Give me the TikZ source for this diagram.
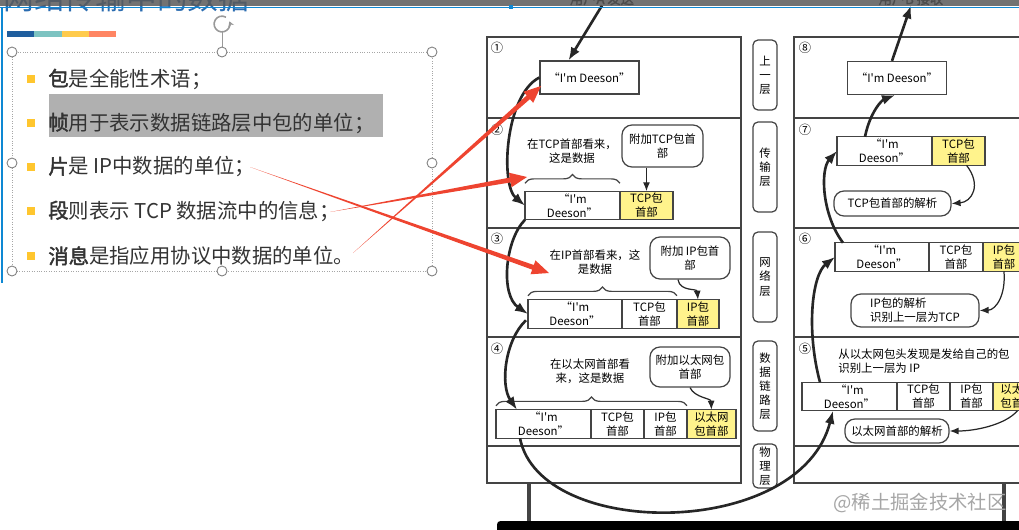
\documentclass[tikz,border=0pt]{standalone}
\usepackage{fontspec}
\newfontfamily\cjk{Noto Sans CJK SC}
\newfontfamily\cjkbold{Noto Sans CJK SC}[FakeBold=2]
\usetikzlibrary{positioning,calc,arrows.meta,decorations.pathreplacing}
\definecolor{frameline}{HTML}{444444}
\definecolor{hdryellow}{HTML}{FFF38C}
\definecolor{annotred}{RGB}{238,68,48}
\definecolor{bulletyellow}{HTML}{FFC62E}
\definecolor{titleblue}{HTML}{2B6CB0}
\definecolor{barblue}{HTML}{1F5E9E}
\definecolor{barteal}{HTML}{7DC3C1}
\definecolor{baryellow}{HTML}{FFCB4C}
\definecolor{barsalmon}{HTML}{FF8563}
\newcommand\diagfont{\cjk\fontsize{6.5}{8}\selectfont}
\newcommand\slidefont{\cjk\fontsize{11.6}{13}\selectfont}
\tikzset{
  cell/.style={draw=frameline, fill=white, line width=0.7pt, minimum height=0.57cm,
    inner sep=0pt, outer sep=0pt, align=center, font=\diagfont},
  hdr/.style={cell, fill=hdryellow},
  msgbox/.style={draw=frameline, fill=white, line width=0.7pt, minimum width=1.98cm,
    minimum height=0.66cm, inner sep=0pt, font=\diagfont},
  bubble/.style={draw=frameline, fill=white, line width=0.7pt, rounded corners=0.2cm,
    inner sep=0pt, align=center, font=\diagfont},
  layer/.style={draw=frameline, line width=0.7pt, rounded corners=0.1cm, minimum width=0.48cm,
    inner sep=0pt, align=center, font=\diagfont},
  stepnum/.style={inner sep=0pt, font=\cjk\fontsize{7}{8}\selectfont},
  notetext/.style={inner sep=0pt, align=center, font=\diagfont},
  curly/.style={draw=frameline, line width=0.7pt, decorate, decoration={brace, amplitude=5pt}},
  flow/.style={draw=black!85, line width=1.5pt, -{Latex[length=2.6mm,width=2mm]}},
  pointer/.style={draw=black!85, line width=0.7pt, -{Latex[length=1.8mm,width=1.4mm]}},
  annot/.style={fill=annotred},
  bulletsq/.style={fill=bulletyellow, minimum size=0.16cm, inner sep=0pt},
  bullettext/.style={anchor=west, inner sep=0pt, text=black!80, font=\slidefont},
  handle/.style={circle, draw=gray, fill=white, minimum size=0.2cm, inner sep=0pt, line width=0.5pt}
}
\begin{document}
\begin{tikzpicture}[x=0.02cm, y=-0.02cm]
  \useasboundingbox (0,0) rectangle (1019,529);
  \clip (0,0) rectangle (1019,529);

  % Slide text
  \node[anchor=west, inner sep=0pt, text=titleblue, font=\cjk\fontsize{17.5}{20}\selectfont] (title) at (3,-2) {网络传输中的数据};
  \fill[barblue] (7,31) rectangle (34,37);
  \fill[barteal] (34,31) rectangle (62,37);
  \fill[baryellow] (62,31) rectangle (89,37);
  \fill[barsalmon] (89,31) rectangle (116,37);

  \draw[gray!70, densely dotted, line width=0.4pt] (12,52) rectangle (432,271);
  \coordinate (rot) at (222,24);
  \draw[gray!80, line width=0.5pt] (222,52) -- (222,31);
  \draw[gray!80, line width=0.9pt, -{Stealth[length=1mm,width=1.2mm]}] ($(rot)+(60:4.5pt)$) arc[start angle=60, end angle=380, radius=4.5pt];
  \foreach \hx/\hy [count=\i] in {12/52, 222/52, 432/52, 12/163, 432/163, 12/271, 222/271, 432/271}
    \node[handle] (h\i) at (\hx,\hy) {};

  \fill[black!31] (49,94) rectangle (383,137);
  \foreach \by [count=\i] in {79,123,167,211,256}
    \node[bulletsq] (sq\i) at (31,\by) {};
  \node[bullettext] (bt1) at (48,79) {{\cjkbold 包}是全能性术语；};
  \node[bullettext] (bt2) at (48,123) {{\cjkbold 帧}用于表示数据链路层中包的单位；};
  \node[bullettext] (bt3) at (48,167) {{\cjkbold 片}是 IP中数据的单位；};
  \node[bullettext] (bt4) at (48,211) {{\cjkbold 段}则表示 TCP 数据流中的信息；};
  \node[bullettext] (bt5) at (48,256) {{\cjkbold 消息}是指应用协议中数据的单位。};

  % Frames
  \draw[frameline, line width=0.8pt] (487,37) rectangle (741,483);
  \draw[frameline, line width=0.8pt] (794,37) rectangle (1045,483);
  \foreach \yy in {118,228,337,446} {
    \draw[frameline, line width=0.8pt] (487,\yy) -- (741,\yy);
    \draw[frameline, line width=0.8pt] (794,\yy) -- (1045,\yy);
  }
  \draw[frameline, line width=2.4pt] (529,483) -- (529,522);
  \draw[frameline, line width=2.4pt] (1004,483) -- (1004,522);
  \fill[black, rounded corners=2pt] (497,521) rectangle (1030,535);

  % Layers
  \node[layer, minimum height=1.4cm] (l1) at (765,75) {上\\一\\层};
  \node[layer, minimum height=1.8cm] (l2) at (765,167) {传\\输\\层};
  \node[layer, minimum height=1.8cm] (l3) at (765,277) {网\\络\\层};
  \node[layer, minimum height=1.8cm] (l4) at (765,386) {数\\据\\链\\路\\层};
  \node[layer, minimum height=0.88cm] (l5) at (765,466) {物\\理\\层};

  % Sender side
  \node[font=\cjkbold\fontsize{7.5}{9}\selectfont, inner sep=0pt] (userA) at (602,-1) {用户A 发送};
  \node[stepnum] (n1) at (497,48) {①};
  \node[msgbox] (m1) at (589.5,77.5) {“I'm Deeson”};

  \node[stepnum] (n2) at (497,130) {②};
  \node[notetext] (s2) at (572,151) {在TCP首部看来，\\这是数据};
  \node[bubble, minimum width=1.62cm, minimum height=0.84cm] (b2) at (662.5,146) {附加TCP包首\\部};
  \node[cell, minimum width=1.9cm, anchor=west] (d2) at (525,205.5) {“I'm\\Deeson”};
  \node[hdr, minimum width=1.06cm, right=0pt of d2] (t2) {TCP包\\首部};

  \node[stepnum] (n3) at (497,239) {③};
  \node[notetext] (s3) at (595,262) {在IP首部看来，这\\是数据};
  \node[bubble, minimum width=1.6cm, minimum height=0.84cm] (b3) at (690,258) {附加 IP包首\\部};
  \node[cell, minimum width=1.88cm, anchor=west] (d3) at (528,314) {“I'm\\Deeson”};
  \node[cell, minimum width=1.1cm, right=0pt of d3] (t3) {TCP包\\首部};
  \node[hdr, minimum width=0.84cm, right=0pt of t3] (i3) {IP包\\首部};

  \node[stepnum] (n4) at (497,349) {④};
  \node[notetext] (s4) at (590,371) {在以太网首部看\\来，这是数据};
  \node[bubble, minimum width=1.6cm, minimum height=0.8cm] (b4) at (690,367) {附加以太网包\\首部};
  \node[cell, minimum width=1.9cm, anchor=west] (d4) at (496,424) {“I'm\\Deeson”};
  \node[cell, minimum width=1.06cm, right=0pt of d4] (t4) {TCP包\\首部};
  \node[cell, minimum width=0.86cm, right=0pt of t4] (i4) {IP包\\首部};
  \node[hdr, minimum width=0.98cm, right=0pt of i4] (e4) {以太网\\包首部};

  \draw[curly] ($(d2.north west)+(0,-8)$) -- ($(d2.north east)+(0,-8)$);
  \draw[curly] ($(d3.north west)+(0,-4)$) -- ($(t3.north east)+(0,-4)$);
  \draw[curly] ($(d4.north west)+(0,-4)$) -- ($(i4.north east)+(0,-4)$);

  % Receiver side
  \node[font=\cjkbold\fontsize{7.5}{9}\selectfont, inner sep=0pt] (userB) at (911,-1) {用户B 接收};
  \node[stepnum] (n8) at (805,48) {⑧};
  \node[msgbox] (m8) at (897,78) {“I'm Deeson”};

  \node[stepnum] (n7) at (805,130) {⑦};
  \node[cell, minimum width=1.9cm, anchor=west] (g7) at (837,151) {“I'm\\Deeson”};
  \node[hdr, minimum width=1.06cm, right=0pt of g7] (g7t) {TCP包\\首部};
  \node[bubble, minimum width=2.34cm, minimum height=0.5cm] (p7) at (892.5,203.5) {TCP包首部的解析};

  \node[stepnum] (n6) at (805,239) {⑥};
  \node[cell, minimum width=1.88cm, anchor=west] (f6) at (835,257) {“I'm\\Deeson”};
  \node[cell, minimum width=1.08cm, right=0pt of f6] (f6t) {TCP包\\首部};
  \node[hdr, minimum width=0.84cm, right=0pt of f6t] (f6i) {IP包\\首部};
  \node[bubble, minimum width=2.56cm, minimum height=0.66cm, align=left] (p6) at (915,310.5) {IP包的解析\\识别上一层为TCP};

  \node[stepnum] (n5) at (805,349) {⑤};
  \node[notetext, anchor=west, align=left] (s5) at (838,361) {从以太网包头发现是发给自己的包\\识别上一层为 IP};
  \node[cell, minimum width=1.9cm, anchor=west] (e5) at (802,396.5) {“I'm\\Deeson”};
  \node[cell, minimum width=1.06cm, right=0pt of e5] (e5t) {TCP包\\首部};
  \node[cell, minimum width=0.86cm, right=0pt of e5t] (e5i) {IP包\\首部};
  \node[hdr, minimum width=0.98cm, right=0pt of e5i] (e5e) {以太网\\包首部};
  \node[bubble, minimum width=2.08cm, minimum height=0.48cm] (p5) at (897,431) {以太网首部的解析};

  \node[inner sep=0pt, text=black!35, font=\cjk\fontsize{11}{13}\selectfont] (wm) at (920,503) {@稀土掘金技术社区};

  % Arrows
  \draw[flow] (userA.south) -- ($(m1.north)+(-21,0)$);
  \draw[flow] (m1.west) .. controls (505,95) and (500,185) .. (d2.west);
  \draw[flow] (d2.south west) .. controls (505,240) and (500,295) .. (d3.west);
  \draw[flow] ($(d3.south west)+(-2,-8)$) .. controls (505,340) and (500,385) .. ($(d4.north west)+(21,0)$);
  \draw[flow] ($(d4.south west)+(24,0)$) .. controls (540,540) and (800,540) .. ($(e5.south west)+(31,0)$);
  \draw[flow] ($(e5.north west)+(18,0)$) .. controls (806,330) and (812,275) .. (f6.west);
  \draw[flow] ($(f6.north west)+(8,0)$) .. controls (822,215) and (820,170) .. (g7.west);
  \draw[flow] ($(g7.north west)+(28,0)$) .. controls (870,112) and (882,100) .. ($(m8.south)+(-2,0)$);
  \draw[flow] ($(m8.north)+(-5,0)$) -- (userB.south);

  \draw[pointer] (b2.south -| t2.north) -- (t2.north);
  \draw[pointer] ($(b3.south)+(-12,0)$) .. controls (680,292) and (697,288) .. (i3.north);
  \draw[pointer] (b4.south) .. controls (695,398) and (711,398) .. (e4.north);
  \draw[pointer] ($(g7t.south)+(8,0)$) .. controls (982,185) and (972,202) .. (p7.east);
  \draw[pointer] (f6i.south) .. controls (1006,295) and (996,310) .. (p6.east);
  \draw[pointer] (e5e.south) .. controls (1005,425) and (975,431) .. (p5.east);

  % Red marks
  \coordinate (r1s) at (250,167); \coordinate (r1e) at (549,273);
  \coordinate (r2s) at (330,212); \coordinate (r2e) at (527,177);
  \coordinate (r3s) at (353,253); \coordinate (r3e) at (541,86);
  \foreach \s/\e in {r1s/r1e, r2s/r2e, r3s/r3e} {
    \path ($(\e)!0.34cm!(\s)$) coordinate (base);
    \fill[annot] (\s) -- ($(base)!1.4pt!90:(\s)$) -- ($(base)!4.2pt!90:(\s)$) -- (\e)
      -- ($(base)!4.2pt!-90:(\s)$) -- ($(base)!1.4pt!-90:(\s)$) -- cycle;
  }

  % Window edge
  \fill[black!65, opacity=0.85] (0,0) rectangle (1019,6);
  \draw[cyan!70!blue, line width=0.5pt] (0,7) -- (1019,7);
  \draw[cyan!70!blue, line width=0.8pt] (2,7) -- (2,283);
  \fill[cyan!70!blue] (509,5) rectangle (513,9);
\end{tikzpicture}
\end{document}
